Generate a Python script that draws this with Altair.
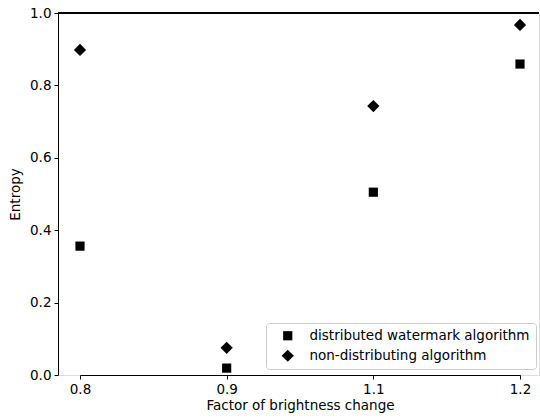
import altair as alt
import pandas as pd

factors = ["0.8", "0.9", "1.1", "1.2"]
distributed = [0.356, 0.019, 0.505, 0.859]
non_distributing = [0.898, 0.075, 0.743, 0.967]
series_names = ["distributed watermark algorithm", "non-distributing algorithm"]

rows = []
for f, v in zip(factors, distributed):
    rows.append({"factor": f, "entropy": v, "series": series_names[0]})
for f, v in zip(factors, non_distributing):
    rows.append({"factor": f, "entropy": v, "series": series_names[1]})
df = pd.DataFrame(rows)

FONT = "DejaVu Sans"
FS = 13.5
SQUARE = "M-0.75,-0.75H0.75V0.75H-0.75Z"

x_enc = alt.X("factor:N", sort=factors, title="Factor of brightness change",
              scale=alt.Scale(type="point", range=[22, 462], padding=0),
              axis=alt.Axis(labelAngle=0, tickSize=4, domainColor="black", tickColor="black",
                            labelColor="black", titleColor="black", labelFontSize=FS,
                            titleFontSize=FS, titleFontWeight="normal", labelPadding=3,
                            titlePadding=3, grid=False, labelFont=FONT, titleFont=FONT))
y_enc = alt.Y("entropy:Q", title="Entropy",
              scale=alt.Scale(domain=[0, 1], nice=False, zero=True),
              axis=alt.Axis(values=[0, 0.2, 0.4, 0.6, 0.8, 1.0], format=".1f", tickSize=4,
                            domainColor="black", tickColor="black", labelColor="black",
                            titleColor="black", labelFontSize=FS, titleFontSize=FS,
                            titleFontWeight="normal", labelPadding=3, titlePadding=7,
                            grid=False, labelFont=FONT, titleFont=FONT))
shape_enc = alt.Shape("series:N", scale=alt.Scale(domain=series_names, range=[SQUARE, "diamond"]),
                      legend=alt.Legend(title=None, orient="none", legendX=208, legendY=310,
                                        fillColor="white", strokeColor="#cccccc", cornerRadius=3,
                                        padding=6, rowPadding=5, labelFontSize=FS, labelLimit=0,
                                        labelFont=FONT, labelColor="black", symbolFillColor="black",
                                        symbolStrokeColor="black", symbolSize=150, labelOffset=15,
                                        symbolOffset=9, symbolStrokeWidth=0))

points = alt.Chart(df).mark_point(filled=True, opacity=1, color="black", size=150).encode(
    x=x_enc, y=y_enc, shape=shape_enc)

top_spine = alt.Chart(df).mark_rule(color="black", strokeWidth=1).encode(
    x=alt.value(0), x2=alt.value(481), y=alt.value(0))

chart = alt.layer(points, top_spine).properties(
    width=481, height=362,
    autosize=alt.AutoSizeParams(type="none"),
    padding={"left": 58, "top": 13, "right": 1, "bottom": 44},
).configure_view(stroke=None).configure(background="white")

chart.save("out.html", embed_options={"renderer": "svg", "actions": False})
